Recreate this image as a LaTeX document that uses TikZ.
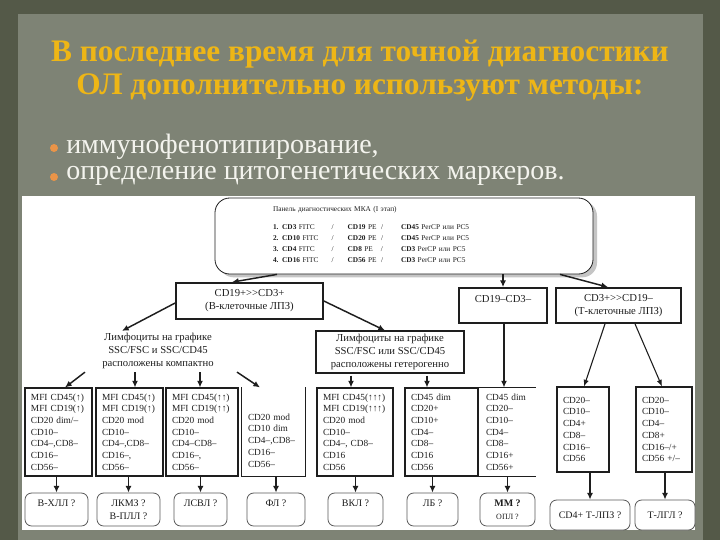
\documentclass[tikz,border=0pt]{standalone}
\usepackage{fontspec}
\setmainfont{Liberation Serif}
\usepackage{tikz}
\usetikzlibrary{arrows.meta,positioning,calc,shadows}
\definecolor{slideframe}{RGB}{84,89,72}
\definecolor{slidepaper}{RGB}{126,131,117}
\definecolor{titlegold}{RGB}{238,182,22}
\definecolor{bulletorange}{RGB}{234,148,72}
\definecolor{bullettext}{RGB}{244,244,238}
\definecolor{scanink}{RGB}{30,30,30}

\tikzset{
  grpbox/.style={draw=scanink,line width=1.3pt,fill=white,align=center,inner sep=0pt,
    text=scanink,font=\fontsize{8}{9.75}\selectfont},
  colbox/.style={draw=scanink,line width=0.8pt,fill=white,align=left,inner xsep=4.5pt,
    inner ysep=0pt,text=scanink,font=\fontsize{7}{8.8}\selectfont},
  resbox/.style={draw=black!65,line width=0.6pt,rounded corners=5pt,fill=white,align=center,
    inner sep=0pt,text=scanink,font=\fontsize{7.5}{9.75}\selectfont},
  arr/.style={-{Latex[length=5pt,width=4.5pt]},line width=1.1pt,draw=scanink},
  thinarr/.style={-{Latex[length=5pt,width=4pt]},line width=0.8pt,draw=scanink}
}

\begin{document}
\begin{tikzpicture}[x=0.75pt,y=-0.75pt]
  \def\pxs{0.75pt}
  \useasboundingbox (0,0) rectangle (720,540);
  \fill[slideframe] (0,0) rectangle (720,540);
  \fill[slidepaper] (18,14) rectangle (703,540);
  \fill[white] (22,196) rectangle (695,530);

  \node[font=\bfseries\fontsize{23.5}{24.75}\selectfont,text=titlegold,align=center] (title) at (360,71)
    {В последнее время для точной диагностики\\ОЛ дополнительно используют методы:};
  \node[circle,fill=bulletorange,inner sep=0pt,minimum size=6pt] (dot1) at (54,148) {};
  \node[circle,fill=bulletorange,inner sep=0pt,minimum size=6pt] (dot2) at (54,177) {};
  \node[anchor=west,inner sep=0pt,text=bullettext,font=\fontsize{21}{24}\selectfont] (bul1) at (66,147) {иммунофенотипирование,};
  \node[anchor=west,inner sep=0pt,text=bullettext,font=\fontsize{21}{24}\selectfont] (bul2) at (66,176) {определение цитогенетических маркеров.};

  \node[draw=scanink,line width=0.6pt,rounded corners=11pt,fill=white,
        drop shadow={shadow xshift=3pt,shadow yshift=-2.5pt,fill=black!45},
        minimum width=378*\pxs,minimum height=76*\pxs,inner xsep=58*\pxs,text width=262*\pxs,
        align=left,text=scanink,font=\fontsize{5.5}{8.2}\selectfont] (panel) at (404,236)
    {Панель диагностических МКА (I этап)\\[6pt]
     \begin{tabular}{@{}p{44pt}@{}p{12pt}@{}p{25pt}@{}p{15pt}@{}l@{}}
     \textbf{1. CD3} FITC & / & \textbf{CD19} PE & / & \textbf{CD45} PerCP или PC5\\
     \textbf{2. CD10} FITC & / & \textbf{CD20} PE & / & \textbf{CD45} PerCP или PC5\\
     \textbf{3. CD4} FITC & / & \textbf{CD8} PE & / & \textbf{CD3} PerCP или PC5\\
     \textbf{4. CD16} FITC & / & \textbf{CD56} PE & / & \textbf{CD3} PerCP или PC5
     \end{tabular}};

  \node[grpbox,minimum width=147*\pxs,minimum height=36*\pxs] (bgrp) at (249.5,301) {CD19+{>}{>}CD3+\\(В-клеточные ЛПЗ)};
  \node[grpbox,minimum width=88*\pxs,minimum height=35*\pxs] (ngrp) at (503,305.5) {CD19–CD3–\\\mbox{}};
  \node[grpbox,minimum width=125*\pxs,minimum height=35*\pxs] (tgrp) at (618.5,305.5) {CD3+{>}{>}CD19–\\(Т-клеточные ЛПЗ)};

  \node[align=center,inner sep=0pt,text=scanink,font=\fontsize{8}{9.75}\selectfont] (compact) at (158,351)
    {Лимфоциты на графике\\SSC/FSC и SSC/CD45\\расположены компактно};
  \node[draw=scanink,line width=0.8pt,align=center,inner sep=0pt,text=scanink,font=\fontsize{8}{9.75}\selectfont,
        minimum width=148*\pxs,minimum height=42*\pxs] (hetbox) at (390,352)
    {Лимфоциты на графике\\SSC/FSC или SSC/CD45\\расположены гетерогенно};

  \node[colbox,minimum height=88*\pxs,text width=55*\pxs] (c1) at (58.5,432)
    {MFI CD45(↑)\\MFI CD19(↑)\\CD20 dim/–\\CD10–\\CD4–,CD8–\\CD16–\\CD56–};
  \node[colbox,minimum height=88*\pxs,text width=55*\pxs] (c2) at (129.5,432)
    {MFI CD45(↑)\\MFI CD19(↑)\\CD20 mod\\CD10–\\CD4–,CD8–\\CD16–,\\CD56–};
  \node[colbox,minimum height=88*\pxs,text width=60*\pxs] (c3) at (202,432)
    {MFI CD45(↑↑)\\MFI CD19(↑↑)\\CD20 mod\\CD10–\\CD4–CD8–\\CD16–,\\CD56–};
  \node[colbox,draw=none,minimum height=88*\pxs,text width=51*\pxs] (c4) at (273.5,432)
    {\mbox{}\\\mbox{}\\CD20 mod\\CD10 dim\\CD4–,CD8–\\CD16–\\CD56–};
  \node[colbox,minimum height=88*\pxs,text width=64*\pxs] (c5) at (355,432)
    {MFI CD45(↑↑↑)\\MFI CD19(↑↑↑)\\CD20 mod\\CD10–\\CD4–, CD8–\\CD16\\CD56};
  \node[colbox,minimum height=88*\pxs,text width=61*\pxs] (c6) at (441.5,432)
    {CD45 dim\\CD20+\\CD10+\\CD4–\\CD8–\\CD16\\CD56};
  \node[colbox,draw=none,minimum height=88*\pxs,text width=43*\pxs] (c7) at (507.5,432)
    {CD45 dim\\CD20–\\CD10–\\CD4–\\CD8–\\CD16+\\CD56+};
  \node[colbox,minimum height=85*\pxs,text width=40*\pxs] (c8) at (583,429.5)
    {CD20–\\CD10–\\CD4+\\CD8–\\CD16–\\CD56};
  \node[colbox,minimum height=85*\pxs,text width=44*\pxs] (c9) at (664,429.5)
    {CD20–\\CD10–\\CD4–\\CD8+\\CD16–/+\\CD56 +/–};
  \draw[scanink,line width=0.8pt] (c4.north west) -- (c4.south west) -- (c4.south east) -- (c4.north east);
  \draw[scanink,line width=0.8pt] (c7.north west) -- (c7.north east) (c7.south west) -- (c7.south east);

  \node[resbox,minimum width=63*\pxs,minimum height=33*\pxs] (r1) at (56.5,509.5) {В-ХЛЛ ?\\\mbox{}};
  \node[resbox,minimum width=63*\pxs,minimum height=33*\pxs] (r2) at (128.5,509.5) {ЛКМЗ ?\\В-ПЛЛ ?};
  \node[resbox,minimum width=53*\pxs,minimum height=33*\pxs] (r3) at (200.5,509.5) {ЛСВЛ ?\\\mbox{}};
  \node[resbox,minimum width=58*\pxs,minimum height=33*\pxs] (r4) at (276,509.5) {ФЛ ?\\\mbox{}};
  \node[resbox,minimum width=55*\pxs,minimum height=33*\pxs] (r5) at (355.5,509.5) {ВКЛ ?\\\mbox{}};
  \node[resbox,minimum width=51*\pxs,minimum height=33*\pxs] (r6) at (432.5,509.5) {ЛБ ?\\\mbox{}};
  \node[resbox,minimum width=55*\pxs,minimum height=33*\pxs] (r7) at (507.5,509.5) {\textbf{ММ ?}\\{\fontsize{6}{7}\selectfont ОПЛ ?}};
  \node[resbox,minimum width=80*\pxs,minimum height=30*\pxs] (r8) at (590,515) {CD4+ Т-ЛПЗ ?};
  \node[resbox,minimum width=60*\pxs,minimum height=30*\pxs] (r9) at (665,515) {Т-ЛГЛ ?};

  \draw[arr] ($(panel.south)+(-127,0)$) -- ($(bgrp.north)+(-17.5,0)$);
  \draw[arr] (panel.south -| ngrp.north) -- (ngrp.north);
  \draw[arr] ($(panel.south)+(156,0)$) -- ($(tgrp.north)+(-10.5,0)$);
  \draw[arr] ($(bgrp.west)+(0,2)$) -- ($(compact.north)+(-36,-2)$);
  \draw[arr] (bgrp.east) -- ($(hetbox.north)+(-5,0)$);
  \draw[arr] ($(compact.south)+(-73,3)$) -- ($(c1.north)+(6.5,0)$);
  \draw[arr] ($(compact.south)+(-23,3)$) -- ($(c2.north)+(5.5,0)$);
  \draw[arr] ($(compact.south)+(42,3)$) -- ($(c3.north)+(-2,0)$);
  \draw[arr] ($(compact.south)+(79,3)$) -- ($(c4.north)+(-13.5,0)$);
  \draw[arr] ($(hetbox.south)+(-39,2)$) -- ($(c5.north)+(-4,0)$);
  \draw[arr] ($(hetbox.south)+(37,2)$) -- ($(c6.north)+(-14.5,0)$);
  \draw[arr] ($(ngrp.south)+(1,0)$) -- ($(c7.north)+(-3.5,0)$);
  \draw[thinarr] ($(tgrp.south)+(-13.5,0)$) -- ($(c8.north)+(1,0)$);
  \draw[thinarr] ($(tgrp.south)+(16.5,0)$) -- ($(c9.north)+(-2,0)$);
  \foreach \k in {1,...,9}
    \draw[arr] (c\k.south -| r\k.north) -- (r\k.north);
\end{tikzpicture}
\end{document}
